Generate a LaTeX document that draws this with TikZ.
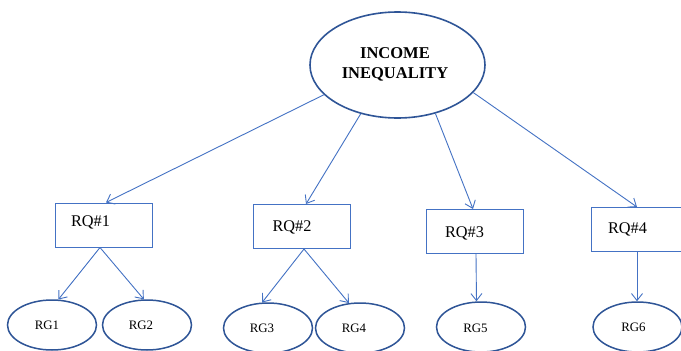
\documentclass[tikz,border=0pt]{standalone}
\usepackage{fontspec}
\setmainfont{Liberation Serif}
\usetikzlibrary{arrows.meta,shapes.geometric}
\definecolor{arr}{HTML}{4472C4}
\definecolor{ell}{HTML}{2F5597}
\begin{document}
\begin{tikzpicture}[x=1pt,y=-1pt,
  bigell/.style={draw=ell,line width=1.6pt,ellipse,inner sep=0pt,minimum width=175pt,minimum height=106pt},
  smallell/.style={draw=ell,line width=1.5pt,ellipse,inner sep=0pt,minimum width=89pt,minimum height=50pt},
  rqbox/.style={draw=arr,line width=1pt,rectangle,inner sep=0pt,minimum width=97pt,minimum height=44pt},
  rqtext/.style={font=\fontsize{16.3}{19}\selectfont,inner sep=0pt},
  rgtext/.style={font=\fontsize{12.9}{15}\selectfont,inner sep=0pt},
  conn/.style={draw=arr,line width=0.9pt,-{Straight Barb[length=7pt,width=11pt]}}]
\clip (0,0) rectangle (681,351);
\fill[white] (0,0) rectangle (681,351);

\node[bigell] (top) at (397.5,65) {};
\node[font=\bfseries\fontsize{16.5}{19.5}\selectfont,align=center,inner sep=0pt] (toptext) at (395,64.5) {INCOME\\INEQUALITY};

\node[rqbox] (rq1) at (103.5,225) {};
\node[rqtext] (rq1t) at (90.5,222) {RQ\#1};
\node[rqbox] (rq2) at (302,226.5) {};
\node[rqtext] (rq2t) at (292,227) {RQ\#2};
\node[rqbox] (rq3) at (475,231.5) {};
\node[rqtext] (rq3t) at (464.5,233) {RQ\#3};
\node[rqbox] (rq4) at (639.5,229.5) {};
\node[rqtext] (rq4t) at (627.5,229) {RQ\#4};

\node[smallell] (rg1) at (52,325) {};
\node[rgtext] (rg1t) at (47,325) {RG1};
\node[smallell] (rg2) at (147,325) {};
\node[rgtext] (rg2t) at (141,325) {RG2};
\node[smallell] (rg3) at (268,328) {};
\node[rgtext] (rg3t) at (262,328) {RG3};
\node[smallell] (rg4) at (360,328) {};
\node[rgtext] (rg4t) at (354,328) {RG4};
\node[smallell] (rg5) at (481,327) {};
\node[rgtext] (rg5t) at (475.5,328) {RG5};
\node[smallell] (rg6) at (637.5,327) {};
\node[rgtext] (rg6t) at (633.5,327) {RG6};

\draw[conn] (top.202) -- ([xshift=2.5pt]rq1.north);
\draw[conn] (top.233) -- ([xshift=4pt]rq2.north);
\draw[conn] (top.308) -- ([xshift=-2pt]rq3.north);
\draw[conn] (top.340) -- ([xshift=-2.5pt]rq4.north);

\draw[conn] ([xshift=-3.5pt]rq1.south) -- (rg1.76);
\draw[conn] ([xshift=-3.5pt]rq1.south) -- (rg2.97);
\draw[conn] ([xshift=2pt]rq2.south) -- (rg3.103);
\draw[conn] ([xshift=2pt]rq2.south) -- (rg4.114);
\draw[conn] ([xshift=1pt]rq3.south) -- ([xshift=-4.5pt]rg5.north);
\draw[conn] ([xshift=-2.5pt]rq4.south) -- ([xshift=-0.5pt]rg6.north);
\end{tikzpicture}
\end{document}
